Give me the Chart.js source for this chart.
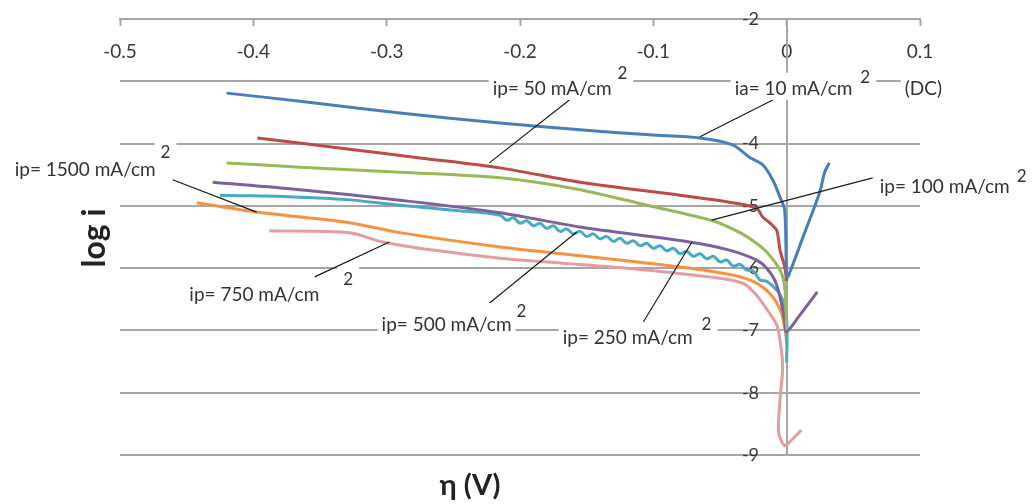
<!DOCTYPE html>
<html>
<head>
<meta charset="utf-8">
<script src="https://cdn.jsdelivr.net/npm/chart.js@4.4.1/dist/chart.umd.min.js"></script>
<style>
  html, body { margin: 0; padding: 0; background: #fff; }
  #wrap { width: 1032px; height: 504px; }
</style>
</head>
<body>
<div id="wrap"><canvas id="polChart" width="1032" height="504"></canvas></div>
<script>
// axes
const xTicks = [-0.5, -0.4, -0.3, -0.2, -0.1, 0, 0.1];
const yTicks = [-2, -3, -4, -5, -6, -7, -8, -9];

// ia = 10 mA/cm2 (DC)
const dcX = [-0.42, -0.365, -0.29, -0.215, -0.155, -0.103, -0.065, -0.0405, -0.028, -0.018, -0.0105, -0.005, -0.0015, 0, 0.001, 0.0128, 0.0248, 0.0285, 0.032];
const dcY = [-3.19, -3.32, -3.51, -3.67, -3.78, -3.86, -3.91, -4.02, -4.22, -4.34, -4.58, -4.86, -5.07, -6.14, -6.14, -5.47, -4.78, -4.46, -4.31];

// ip = 50
const p50X = [-0.397, -0.328, -0.275, -0.215, -0.155, -0.08, -0.0405, -0.0225, -0.018, -0.0128, -0.0075, -0.005, -0.0015, 0];
const p50Y = [-3.91, -4.09, -4.23, -4.39, -4.62, -4.83, -4.95, -5.04, -5.18, -5.27, -5.39, -5.71, -5.98, -6.21];

// ip = 100
const p100X = [-0.42, -0.365, -0.29, -0.215, -0.155, -0.105, -0.0555, -0.035, -0.024, -0.015, -0.005, -0.0015, 0];
const p100Y = [-4.31, -4.38, -4.46, -4.55, -4.74, -4.99, -5.24, -5.43, -5.58, -5.74, -6.03, -6.30, -6.99];

// ip = 250
const p250X = [-0.4305, -0.365, -0.29, -0.215, -0.155, -0.073, -0.043, -0.0225, -0.015, -0.009, -0.005, -0.0015, 0, 0.01, 0.023];
const p250Y = [-4.62, -4.74, -4.91, -5.11, -5.34, -5.58, -5.71, -5.87, -6.00, -6.19, -6.46, -6.83, -7.02, -6.75, -6.38];

// ip = 500 (wavy trace)
const p500X = [-0.425, -0.365, -0.33, -0.29, -0.25,
  -0.215, -0.21, -0.205, -0.20, -0.195, -0.19, -0.185, -0.18, -0.175, -0.17,
  -0.165, -0.16, -0.155, -0.15, -0.145, -0.14, -0.135, -0.13, -0.125, -0.12,
  -0.115, -0.11, -0.105, -0.10, -0.095, -0.09, -0.085, -0.08, -0.075, -0.07,
  -0.065, -0.06, -0.055, -0.05, -0.045, -0.04, -0.035, -0.03, -0.025, -0.02,
  -0.015, -0.0075, -0.003, 0, 0];
const p500Y = [-4.83, -4.86, -4.90, -4.99, -5.07,
  -5.15, -5.23, -5.19, -5.28, -5.24, -5.32, -5.28, -5.36, -5.32, -5.41,
  -5.37, -5.45, -5.41, -5.49, -5.45, -5.53, -5.49, -5.57, -5.52, -5.60,
  -5.56, -5.64, -5.60, -5.68, -5.64, -5.72, -5.68, -5.77, -5.73, -5.81,
  -5.77, -5.85, -5.81, -5.90, -5.87, -5.97, -5.94, -6.03, -6.05, -6.19,
  -6.21, -6.35, -6.51, -6.83, -7.52];

// ip = 1500 (orange)
const p1500X = [-0.4425, -0.3975, -0.328, -0.29, -0.215, -0.155, -0.08, -0.0405, -0.0225, -0.0105, -0.004, -0.0008, 0];
const p1500Y = [-4.95, -5.10, -5.27, -5.43, -5.66, -5.80, -5.98, -6.11, -6.24, -6.46, -6.72, -7.04, -7.23];

// ip = 750 (pink)
const p750X = [-0.388, -0.328, -0.303, -0.2655, -0.215, -0.18, -0.12, -0.058, -0.033, -0.022, -0.013, -0.0075, -0.0045, -0.003, -0.005, -0.006, -0.0015, 0.0023, 0.011];
const p750Y = [-5.40, -5.43, -5.58, -5.71, -5.84, -5.90, -6.00, -6.14, -6.24, -6.45, -6.72, -6.91, -7.23, -7.59, -8.12, -8.65, -8.85, -8.79, -8.60];

function pts(xs, ys) {
    return xs.map((x, i) => ({ x: x, y: ys[i] }));
}

// text notes with leader lines, placed in data units
const notes = [
    { text: 'ip= 50 mA/cm', x: -0.2205, y: -3.12, gap: 6, supDy: -15, line: [-0.163, -3.30, -0.223, -4.31] },
    { text: 'ia= 10 mA/cm', x: -0.039, y: -3.12, gap: 8, supDy: -11, line: [-0.0105, -3.30, -0.065, -3.89] },
    { text: '(DC)', x: 0.0885, y: -3.12 },
    { text: 'ip= 1500 mA/cm', x: -0.579, y: -4.42, gap: 5, supDy: -17, line: [-0.4605, -4.58, -0.3975, -5.10] },
    { text: 'ip= 100 mA/cm', x: 0.0698, y: -4.70, gap: 7, supDy: -11, line: [0.0645, -4.55, -0.05625, -5.23] },
    { text: 'ip= 750 mA/cm', x: -0.448, y: -6.43, gap: 24, supDy: -15, line: [-0.354, -6.14, -0.298, -5.58] },
    { text: 'ip= 500 mA/cm', x: -0.3038, y: -6.91, gap: 5, supDy: -13, line: [-0.2228, -6.56, -0.1575, -5.42] },
    { text: 'ip= 250 mA/cm', x: -0.168, y: -7.12, gap: 9, supDy: -13, line: [-0.108, -6.88, -0.071, -5.58] }
];

const notesPlugin = {
    id: 'notes',
    afterDraw(chart) {
        const c = chart.ctx;
        const sx = chart.scales.x, sy = chart.scales.y;
        c.save();
        // leaders
        c.strokeStyle = '#1a1a1a';
        c.lineWidth = 1.2;
        notes.forEach(n => {
            if (!n.line) return;
            c.beginPath();
            c.moveTo(sx.getPixelForValue(n.line[0]), sy.getPixelForValue(n.line[1]));
            c.lineTo(sx.getPixelForValue(n.line[2]), sy.getPixelForValue(n.line[3]));
            c.stroke();
        });
        // labels
        c.textBaseline = 'middle';
        c.textAlign = 'left';
        notes.forEach(n => {
            const px = sx.getPixelForValue(n.x);
            const py = sy.getPixelForValue(n.y);
            c.font = '19px Lato';
            const w = c.measureText(n.text).width;
            c.fillStyle = '#fff';
            c.fillRect(px - 4, py - 16, w + 8, 27);
            c.fillStyle = '#333';
            c.fillText(n.text, px, py);
            if (n.gap !== undefined) {
                const qx = px + w + n.gap;
                const qy = py + n.supDy;
                c.font = '17px Lato';
                const w2 = c.measureText('2').width;
                c.fillStyle = '#fff';
                c.fillRect(qx - 6, qy - 13, w2 + 12, 26);
                c.fillStyle = '#333';
                c.fillText('2', qx, qy);
            }
        });
        // axis titles
        c.fillStyle = '#222';
        c.font = 'bold 32px Lato';
        c.textAlign = 'center';
        c.save();
        c.translate(95, 238);
        c.rotate(-Math.PI / 2);
        c.fillText('log i', 0, 0);
        c.restore();
        c.font = 'bold 29px Lato';
        c.fillText('η (V)', 470, 486);
        c.restore();
    }
};

const lineStyle = (color) => ({
    borderColor: color,
    backgroundColor: color,
    borderWidth: 3,
    pointRadius: 0,
    tension: 0.4,
    showLine: true,
    fill: false
});

const chart = new Chart(document.getElementById('polChart').getContext('2d'), {
    type: 'scatter',
    data: {
        datasets: [
            { label: 'ia= 10 mA/cm2 (DC)', data: pts(dcX, dcY), ...lineStyle('#4A7EBB'), tension: 0.3 },
            { label: 'ip= 50 mA/cm2', data: pts(p50X, p50Y), ...lineStyle('#BE4B48'), tension: 0.3 },
            { label: 'ip= 100 mA/cm2', data: pts(p100X, p100Y), ...lineStyle('#98B954'), tension: 0.3 },
            { label: 'ip= 250 mA/cm2', data: pts(p250X, p250Y), ...lineStyle('#7D60A0'), tension: 0.3 },
            { label: 'ip= 500 mA/cm2', data: pts(p500X, p500Y), ...lineStyle('#46AAC5') },
            { label: 'ip= 1500 mA/cm2', data: pts(p1500X, p1500Y), ...lineStyle('#F69240'), tension: 0.3 },
            { label: 'ip= 750 mA/cm2', data: pts(p750X, p750Y), ...lineStyle('#E59CA2'), tension: 0.3 }
        ]
    },
    options: {
        responsive: false,
        animation: false,
        layout: { padding: { left: 120, right: 112, top: 19, bottom: 49 } },
        plugins: {
            legend: { display: false },
            tooltip: { enabled: false }
        },
        scales: {
            x: {
                type: 'linear',
                min: -0.5,
                max: 0.1,
                position: { y: -2 },
                afterBuildTicks: s => { s.ticks = xTicks.map(v => ({ value: v })); },
                afterFit: s => { s.height = 0; },
                grid: { drawOnChartArea: false, drawTicks: true, tickLength: 6, tickWidth: 2, tickColor: '#a6a6a6' },
                border: { display: true, color: '#a6a6a6', width: 2 },
                ticks: {
                    padding: 15,
                    color: '#383838',
                    font: { family: 'Lato', size: 19 },
                    callback: v => String(Math.round(v * 10) / 10)
                }
            },
            y: {
                type: 'linear',
                min: -9,
                max: -2,
                position: { x: 0 },
                afterBuildTicks: s => { s.ticks = yTicks.map(v => ({ value: v })); },
                afterFit: s => { s.width = 0; },
                grid: { color: '#a6a6a6', lineWidth: 2, drawTicks: false },
                border: { display: true, color: '#a6a6a6', width: 2 },
                ticks: {
                    color: '#383838',
                    font: { family: 'Lato', size: 18 },
                    callback: v => v + '      '
                }
            }
        }
    },
    plugins: [notesPlugin]
});
</script>
</body>
</html>
